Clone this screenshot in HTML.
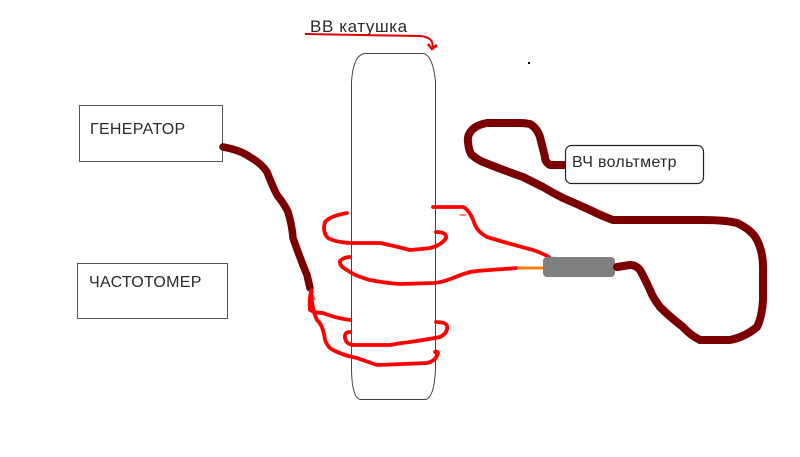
<!DOCTYPE html>
<html><head><meta charset="utf-8">
<style>
html,body{margin:0;padding:0;background:#fff;}
svg{display:block;}
text{font-family:"Liberation Sans",Arial,sans-serif;fill:#2a2a2a;}
</style></head>
<body>
<svg width="800" height="457" viewBox="0 0 800 457" xmlns="http://www.w3.org/2000/svg">
<rect x="0" y="0" width="800" height="457" fill="#fff"/>

<!-- title -->
<text x="310" y="32" font-size="17" letter-spacing="0.6">ВВ катушка</text>
<path d="M305 34 L420 36 Q430 37 432 42 L433 47" fill="none" stroke="#e00000" stroke-width="2"/>
<path d="M428 44 L432 49 L437 45" fill="none" stroke="#e00000" stroke-width="2.5"/>

<!-- dot -->
<rect x="528" y="62" width="2" height="2" fill="#000"/>

<!-- coil body -->
<path d="M364 53.5 L423 53.5 Q433 55 435.5 82 L435.5 370 Q434 397 426 399.5 L360 399.5 Q352 397 351.5 370 L351.5 82 Q353 56 364 53.5 Z" fill="none" stroke="#444" stroke-width="1"/>

<!-- boxes -->
<rect x="79.5" y="105.5" width="143" height="56" fill="#fff" stroke="#555" stroke-width="1"/>
<text x="90" y="134" font-size="16" letter-spacing="0.3">ГЕНЕРАТОР</text>
<rect x="77.5" y="263.5" width="150" height="55" fill="#fff" stroke="#555" stroke-width="1"/>
<text x="89" y="287" font-size="16" letter-spacing="0.3">ЧАСТОТОМЕР</text>

<!-- dark red wire from generator -->
<path d="M223 147 Q240 150 250 157 Q262 164 267 172 Q272 185 277 195 Q285 205 288 212 Q292 225 293 238 Q300 258 307 275 L310 288" fill="none" stroke="#7a0000" stroke-width="7.5" stroke-linecap="round" stroke-linejoin="round"/>
<path d="M310 290 L315 300" stroke="#888" stroke-width="2"/>

<!-- red windings -->
<g fill="none" stroke="#ff0000" stroke-width="3.8" stroke-linecap="round" stroke-linejoin="round">
<!-- top winding -->
<path d="M347 213 Q330 216 325 222 Q322 232 328 238 Q335 242 350 243 L380 243 Q395 246 410 250 Q422 249 430 248 Q442 245 446 238 Q447 232 436 232"/>
<!-- top right lead to probe -->
<path d="M433 207 L463 207 Q470 210 475 225 Q478 232 487 237 Q510 244 533 250 Q545 254 550 258"/>
<path d="M460 215 L466 215" stroke-width="1"/>
<!-- second winding from orange lead -->
<path d="M517 268 Q505 269 490 270 Q475 271 470 272 Q460 275 453 278 Q440 283 433 283 L400 284 Q385 283 370 280 Q355 276 347 270 Q339 266 340 261 Q344 257 350 257"/>
<!-- lower windings from generator wire -->
<path d="M311 292 Q309 300 310 310 Q315 313 323 313 Q335 318 350 320"/>
<path d="M311 292 Q312 310 317 320 Q323 325 325 340 Q328 348 333 350 Q345 356 357 358 Q368 362 377 365 L427 363 Q436 361 438 353 Q437 351 435 352"/>
<path d="M350 332 Q344 332 345 338 Q346 344 353 345 L390 345 Q400 343 410 342 Q430 339 440 337 Q448 333 447 326 Q446 322 436 322"/>
</g>
<path d="M310 289 L313 293" stroke="#ff0000" stroke-width="3"/>

<!-- orange lead -->
<path d="M517 268 L544 268" stroke="#ff8000" stroke-width="3"/>
<!-- probe -->
<rect x="543" y="257" width="72" height="20" rx="4" fill="#808080"/>

<!-- dark red loop to voltmeter -->
<path d="M565 165 L550 165 Q545 162 545 157 Q542 145 540 137 Q537 128 530 124 Q525 123 520 123 L487 123 Q476 125 472 130 Q467 135 468 142 Q469 152 472 155 Q478 160 483 162 Q503 170 523 177 Q533 182 543 187 Q553 193 563 198 Q577 204 590 210 Q602 216 613 220 L703 220 Q725 220 737 223 Q752 230 757 240 Q763 252 763 267 L763 300 Q762 317 757 327 Q745 337 730 340 L700 340 Q690 335 683 327 Q670 317 660 307 Q653 298 650 290 Q644 277 640 270 Q636 265 630 265 L617 267" fill="none" stroke="#7a0000" stroke-width="8" stroke-linecap="round" stroke-linejoin="round"/>

<!-- voltmeter box -->
<rect x="565.5" y="145.5" width="138" height="38" rx="6" fill="#fff" stroke="#222" stroke-width="1.2"/>
<text x="572" y="167" font-size="16" letter-spacing="0.3">ВЧ вольтметр</text>
</svg>
</body></html>
